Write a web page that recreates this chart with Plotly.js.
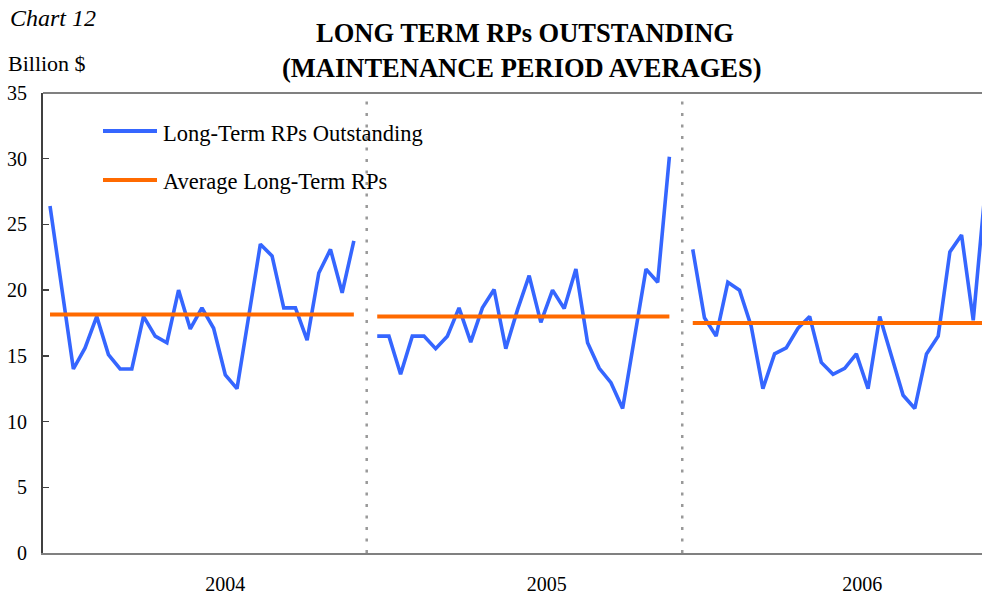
<!DOCTYPE html>
<html>
<head>
<meta charset="utf-8">
<script src="https://cdn.plot.ly/plotly-3.0.1.min.js"></script>
<style>html,body{margin:0;padding:0;background:#fff;}#chart{width:982px;height:598px;}</style>
</head>
<body>
<div id="chart"></div>
<script>
// ---- data ----
const years = ["2004", "2005", "2006"];
const rp2004 = [26.4, 20.2, 14.0, 15.6, 18.0, 15.1, 14.0, 14.0, 18.0, 16.5, 16.0, 20.0, 17.05, 18.65, 17.1, 13.55, 12.5, 18.0, 23.5, 22.6, 18.65, 18.65, 16.2, 21.3, 23.1, 19.8, 23.75];
const rp2005 = [16.5, 16.5, 13.6, 16.5, 16.5, 15.55, 16.5, 18.65, 16.05, 18.65, 20.05, 15.55, 18.5, 21.1, 17.55, 20.0, 18.6, 21.6, 16.0, 14.05, 12.96, 11.0, 16.3, 21.6, 20.6, 30.15];
const rp2006 = [23.1, 17.9, 16.5, 20.6, 20.0, 17.25, 12.5, 15.15, 15.6, 17.1, 18.0, 14.5, 13.6, 14.05, 15.15, 12.5, 18.0, 15.1, 12.0, 11.0, 15.15, 16.5, 22.9, 24.2, 17.7, 27.4];
const avgByYear = [18.15, 18.0, 17.5];
const seriesName = "Long-Term RPs Outstanding";
const avgName = "Average Long-Term RPs";

// ---- build x positions (maintenance period index, one blank period between years) ----
const yearSeries = [rp2004, rp2005, rp2006];
let lx = [], ly = [], ax = [], ay = [], starts = [], ends = [];
let pos = 0;
yearSeries.forEach((arr, k) => {
  starts.push(pos);
  arr.forEach((v, i) => { lx.push(pos + i); ly.push(v); });
  ends.push(pos + arr.length - 1);
  ax.push(pos, pos + arr.length - 1, null);
  ay.push(avgByYear[k], avgByYear[k], null);
  lx.push(null); ly.push(null);
  pos += arr.length + 1;
});
const boundaries = [ (ends[0] + starts[1]) / 2 + 0.1, (ends[1] + starts[2]) / 2 + 0.1 ];
const tickPos = starts.map((s, k) => s + (yearSeries[k].length - 1) / 2 + 2.0);

const BLUE = "#3566ff", ORANGE = "#ff6a00";
const serif = "Liberation Serif, Times New Roman, serif";

const traces = [
  { x: lx, y: ly, type: "scatter", mode: "lines", name: seriesName,
    line: { color: BLUE, width: 3.6 }, connectgaps: false, showlegend: false, hoverinfo: "skip" },
  { x: ax, y: ay, type: "scatter", mode: "lines", name: avgName,
    line: { color: ORANGE, width: 4 }, connectgaps: false, showlegend: false, hoverinfo: "skip" }
];

const shapes = boundaries.map(b => ({
  type: "line", xref: "x", yref: "paper", x0: b, x1: b, y0: 0, y1: 1,
  line: { color: "#999999", width: 2.5, dash: "3px,8.5px" }
}));
shapes.push({ type: "line", xref: "paper", yref: "paper", x0: 0, x1: 1, y0: 1, y1: 1,
  line: { color: "#808080", width: 2 } });
// legend samples
shapes.push({ type: "line", xref: "paper", yref: "paper", x0: 60/939, x1: 114/939, y0: (552.7-131)/459.7, y1: (552.7-131)/459.7,
  line: { color: BLUE, width: 4 } });
shapes.push({ type: "line", xref: "paper", yref: "paper", x0: 60/939, x1: 114/939, y0: (552.7-180)/459.7, y1: (552.7-180)/459.7,
  line: { color: ORANGE, width: 4 } });

const annotations = [
  { text: "LONG TERM RPs OUTSTANDING", xref: "paper", yref: "paper", x: (525-43)/939, y: (552.7-33)/459.7,
    xanchor: "center", yanchor: "middle", showarrow: false, font: { family: serif, size: 26.5, color: "#000", weight: "bold" } },
  { text: "(MAINTENANCE PERIOD AVERAGES)", xref: "paper", yref: "paper", x: (522-43)/939, y: (552.7-68)/459.7,
    xanchor: "center", yanchor: "middle", showarrow: false, font: { family: serif, size: 26.5, color: "#000", weight: "bold" } },
  { text: "<i>Chart 12</i>", xref: "paper", yref: "paper", x: (8-43)/939, y: (552.7-18)/459.7,
    xanchor: "left", yanchor: "middle", showarrow: false, font: { family: serif, size: 24, color: "#000" } },
  { text: "Billion $", xref: "paper", yref: "paper", x: (6-43)/939, y: (552.7-64)/459.7,
    xanchor: "left", yanchor: "middle", showarrow: false, font: { family: serif, size: 22, color: "#000" } },
  { text: seriesName, xref: "paper", yref: "paper", x: (161-43)/939, y: (552.7-133)/459.7,
    xanchor: "left", yanchor: "middle", showarrow: false, font: { family: serif, size: 22.5, color: "#000" } },
  { text: avgName, xref: "paper", yref: "paper", x: (161-43)/939, y: (552.7-181)/459.7,
    xanchor: "left", yanchor: "middle", showarrow: false, font: { family: serif, size: 22.5, color: "#000" } }
];

const layout = {
  width: 982, height: 598,
  margin: { l: 43, r: 0, t: 93, b: 45, pad: 0 },
  paper_bgcolor: "#fff", plot_bgcolor: "#fff",
  showlegend: false,
  xaxis: {
    range: [-0.6, 79.75], tickvals: tickPos, ticktext: years, ticks: "",
    showline: true, linecolor: "#808080", linewidth: 2, showgrid: false, zeroline: false,
    tickfont: { family: serif, size: 20, color: "#000" }, ticklabelstandoff: 12, fixedrange: true
  },
  yaxis: {
    range: [0, 35], dtick: 5, tick0: 0, ticks: "inside", ticklen: 6, tickwidth: 1.5, tickcolor: "#404040",
    showline: true, linecolor: "#404040", linewidth: 2, showgrid: false, zeroline: false,
    tickfont: { family: serif, size: 20, color: "#000" }, ticklabelstandoff: 10, fixedrange: true
  },
  shapes: shapes,
  annotations: annotations
};

Plotly.newPlot("chart", traces, layout, { staticPlot: true, displayModeBar: false });
</script>
</body>
</html>
